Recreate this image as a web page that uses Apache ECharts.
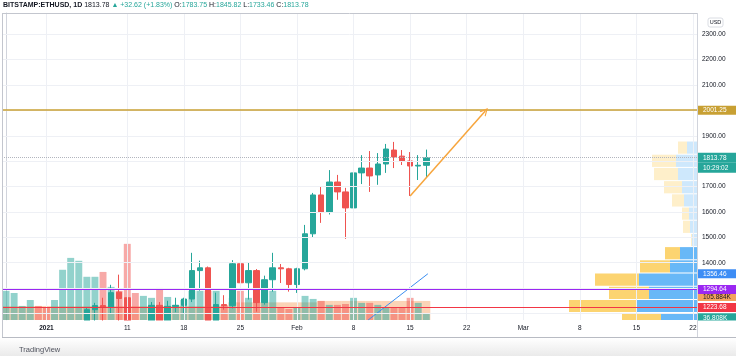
<!DOCTYPE html>
<html><head><meta charset="utf-8">
<script src="https://cdn.jsdelivr.net/npm/echarts@6/dist/echarts.min.js"></script>
<style>html,body{margin:0;padding:0;background:#fff}#c{width:736px;height:356px}</style>
</head><body><div id="c"></div><script>
const dates = [
'2020-12-27','2020-12-28','2020-12-29','2020-12-30','2020-12-31',
'2021-01-01','2021-01-02','2021-01-03','2021-01-04','2021-01-05','2021-01-06','2021-01-07','2021-01-08','2021-01-09','2021-01-10',
'2021-01-11','2021-01-12','2021-01-13','2021-01-14','2021-01-15','2021-01-16','2021-01-17','2021-01-18','2021-01-19','2021-01-20',
'2021-01-21','2021-01-22','2021-01-23','2021-01-24','2021-01-25','2021-01-26','2021-01-27','2021-01-28','2021-01-29','2021-01-30','2021-01-31',
'2021-02-01','2021-02-02','2021-02-03','2021-02-04','2021-02-05','2021-02-06','2021-02-07','2021-02-08','2021-02-09','2021-02-10',
'2021-02-11','2021-02-12','2021-02-13','2021-02-14','2021-02-15','2021-02-16','2021-02-17','2021-02-18','2021-02-19','2021-02-20',
'2021-02-21','2021-02-22','2021-02-23','2021-02-24','2021-02-25','2021-02-26','2021-02-27','2021-02-28',
'2021-03-01','2021-03-02','2021-03-03','2021-03-04','2021-03-05','2021-03-06','2021-03-07','2021-03-08','2021-03-09','2021-03-10',
'2021-03-11','2021-03-12','2021-03-13','2021-03-14','2021-03-15','2021-03-16','2021-03-17','2021-03-18','2021-03-19','2021-03-20',
'2021-03-21','2021-03-22'
];
// [open, close, low, high]  Dec 27 .. Feb 17
const candles = [
[670,685,660,740],[685,731,680,745],[731,732,706,740],[732,752,722,755],[752,737,716,756],
[737,730,714,749],[730,775,716,787],[775,979,768,1010],[979,1041,890,1155],[1041,1100,988,1135],
[1100,1215,1062,1225],[1215,1231,1170,1242],[1231,1224,1155,1262],[1224,1282,1200,1313],[1284,1259,1170,1353],
[1262,1090,918,1265],[1090,1043,1000,1150],[1043,1130,1030,1140],[1130,1232,1100,1245],[1232,1171,1110,1245],
[1171,1228,1160,1250],[1228,1232,1205,1262],[1232,1257,1200,1262],[1257,1369,1245,1439],[1369,1380,1290,1408],
[1380,1121,1100,1385],[1121,1235,1050,1282],[1235,1231,1215,1272],[1231,1396,1220,1410],[1396,1321,1300,1479],
[1321,1369,1255,1400],[1369,1243,1207,1375],[1243,1333,1235,1349],[1333,1380,1286,1439],[1380,1376,1320,1395],
[1376,1314,1286,1380],[1314,1376,1281,1380],[1376,1514,1370,1549],[1514,1667,1500,1675],[1667,1600,1557,1699],
[1600,1718,1590,1765],[1718,1679,1648,1746],[1679,1616,1494,1695],[1616,1754,1569,1765],[1754,1773,1710,1824],
[1773,1742,1679,1840],[1746,1789,1707,1832],[1789,1848,1754,1868],[1844,1817,1773,1876],[1820,1801,1785,1844],
[1801,1781,1663,1836],[1781,1784,1726,1824],[1783.75,1813.78,1733.46,1845.82]
];
// volume, thousands of ETH
const volumes = [
162,150,78,111,78,
72,111,279,345,329,240,240,267,184,162,
423,150,134,123,178,128,84,111,162,162,
162,162,84,123,162,123,100,162,162,72,61,
72,134,117,106,84,84,89,123,95,95,
84,72,67,67,123,95,36.808
];
const volumeMA = [
78,78,78,78,78,78,78,78,78,78,78,78,78,78,78,78,78,78,78,78,78,78,78,78,78,78,78,78,
98,98,98,98,98,98,98,98,98,98,98,
106,106,106,106,106,106,106,106,106,106,106,106,106,105.884
];
const priceTicks = [1400,1500,1600,1700,1900,2100,2200,2300];
const gridLevels = [1200,1300,1400,1500,1600,1700,1800,1900,2000,2100,2200,2300];
const dateTicks = ['2021-01-01','2021-01-11','2021-01-18','2021-01-25','2021-02-01','2021-02-08','2021-02-15','2021-02-22','2021-03-01','2021-03-08','2021-03-15','2021-03-22'];
const dateTickText = ['2021','11','18','25','Feb','8','15','22','Mar','8','15','22'];
const levelResistance = 2001.25;
const lastPrice = 1813.78;
const levelPurple = 1294.64;
const levelRed = 1223.68;
const trendLabel = 1356.46;
// visible-range volume profile rows (row low price), up / down volume
const profileRow = 52;
const profileLow = [1151.5,1203.5,1255.5,1307.5,1359.5,1411.5,1463.5,1515.5,1567.5,1619.5,1671.5,1723.5,1775.5,1827.5];
const profileUp =   [36,60,48,58,27,17,5,7,8,13,15,19,21,10];
const profileDown = [39,68,40,44,30,15,1,7,7,12,18,24,24,9];
const profileInVA = [1,1,1,1,1,1,0,0,0,0,0,0,0,0];
// drawings: [day index, price]
const arrowPts = [[50,1663],[59.3,1998]];
const trendPts = [[44.8,1174],[52.2,1356.46]];

const FONT = '"Liberation Sans", Arial, sans-serif';
const UP = '#26a69a', DN = '#ef5350';
const HIDDEN_LINE = {width:0, color:'rgba(0,0,0,0)'};
const chart = echarts.init(document.getElementById('c'), null, {renderer:'canvas'});

function tag(bg, txt, color){
  return {show:true, position:'end', distance:1, formatter:txt, color:color||'#fff', backgroundColor:bg,
    fontSize:6.5, lineHeight:8, fontFamily:FONT, padding:[1,8,0,5], width:26};
}
const lvl = (v, color, type, width, label) => ({yAxis:v, lineStyle:{color:color, type:type, width:width}, label:label});

function renderProfile(params, api){
  const lo = api.value(0), hi = api.value(1), up = api.value(2), dn = api.value(3), va = api.value(4);
  const pR = api.coord([0, hi]);
  const pB = api.coord([up, lo]);
  const pY = api.coord([up + dn, lo]);
  const top = pR[1] + 0.5, bottom = pB[1] - 0.5;
  const cs = params.coordSys;
  const box = {x:cs.x, y:cs.y, width:cs.width, height:cs.height};
  const b = echarts.graphic.clipRectByRect({x:pB[0], y:top, width:pR[0]-pB[0], height:bottom-top}, box);
  const y = echarts.graphic.clipRectByRect({x:pY[0], y:top, width:pB[0]-pY[0], height:bottom-top}, box);
  const ch = [];
  if (b) ch.push({type:'rect', shape:b, style:{fill: va ? 'rgba(33,150,243,0.68)' : 'rgba(33,150,243,0.22)'}});
  if (y) ch.push({type:'rect', shape:y, style:{fill: va ? 'rgba(251,192,45,0.68)' : 'rgba(251,192,45,0.25)'}});
  return {type:'group', children:ch};
}

const option = {
  animation:false,
  backgroundColor:'#ffffff',
  textStyle:{fontFamily:FONT},
  grid:[{left:2,right:39,top:13,bottom:36},{left:2,right:39,top:239,bottom:36}],
  xAxis:[
    {type:'category', gridIndex:0, data:dates, boundaryGap:true, z:7,
     axisLine:{show:false}, axisTick:{show:false},
     axisLabel:{interval:(i,v)=>dateTicks.includes(v),
       formatter:(v)=>{const k=dateTicks.indexOf(v); return k===0 ? '{b|'+dateTickText[k]+'}' : dateTickText[k];},
       fontSize:6.5, color:'#131722', margin:5, rich:{b:{fontWeight:'bold', fontSize:6.5, color:'#131722'}}},
     splitLine:{show:false}},
    {type:'value', gridIndex:0, min:-0.5, max:dates.length-0.5, show:false},
    {type:'value', gridIndex:0, inverse:true, min:0, max:695, show:false},
    {type:'category', gridIndex:1, data:dates, show:false},
    {type:'category', gridIndex:1, data:dates, show:false}
  ],
  yAxis:[
    {type:'value', gridIndex:0, position:'right', min:1174.3, max:2384, splitLine:{show:false},
     axisLine:{show:true, lineStyle:{color:'#d1d4dc'}}, axisTick:{show:false},
     axisLabel:{customValues:priceTicks, formatter:(v)=>v.toFixed(2), fontSize:6.5, color:'#131722', margin:5}},
    {type:'value', gridIndex:1, min:0, max:450, show:false}
  ],
  series:[
    {type:'line', xAxisIndex:1, yAxisIndex:0, data:[], z:0, silent:true,
     markLine:{silent:true, symbol:['none','none'], label:{show:false}, animation:false,
       lineStyle:{color:'#eef0f5', width:1, type:'solid'},
       data:gridLevels.map(v=>({yAxis:v})).concat(dateTicks.map(d=>({xAxis:dates.indexOf(d)})))}},
    {type:'bar', xAxisIndex:4, yAxisIndex:1, data:volumeMA, barCategoryGap:'0%', z:1, silent:true,
     itemStyle:{color:'rgba(245,150,80,0.42)'},
     markLine:{silent:true, symbol:['none','none'], animation:false,
       data:[{yAxis:volumeMA[volumeMA.length-1], lineStyle:HIDDEN_LINE,
         label:Object.assign(tag('#f3a25e','105.884K','#131722'),{verticalAlign:'bottom'})}]}},
    {type:'bar', xAxisIndex:3, yAxisIndex:1, z:1, silent:true, barCategoryGap:'14%',
     data:volumes.map((v,i)=>({value:v, itemStyle:{color: candles[i][1] >= candles[i][0] ? 'rgba(38,166,154,0.5)' : 'rgba(239,83,80,0.5)'}})),
     markLine:{silent:true, symbol:['none','none'], animation:false,
       data:[{yAxis:volumes[volumes.length-1], lineStyle:HIDDEN_LINE,
         label:Object.assign(tag(UP,'36.808K'),{verticalAlign:'top'})}]}},
    {type:'custom', xAxisIndex:2, yAxisIndex:0, z:2, silent:true, renderItem:renderProfile,
     encode:{x:2, y:0},
     data:profileLow.map((lo,i)=>[lo, lo+profileRow, profileUp[i], profileDown[i], profileInVA[i]])},
    {type:'candlestick', xAxisIndex:0, yAxisIndex:0, z:3, data:candles, barWidth:6, clip:true, silent:true,
     itemStyle:{color:UP, color0:DN, borderColor:UP, borderColor0:DN, borderWidth:1},
     markLine:{silent:true, symbol:['none','none'], animation:false,
       data:[
         lvl(levelResistance,'#c8a033','solid',1.5, tag('#c8a033', levelResistance.toFixed(2))),
         {yAxis:lastPrice, lineStyle:{color:'#b2b5be', type:'dotted', width:1},
          label:{show:true, position:'end', distance:1, formatter:'{e| }\n{a|'+lastPrice.toFixed(2)+'}\n{a|10:29:02}',
            rich:{e:{fontSize:6.5, lineHeight:10, height:10},
                  a:{backgroundColor:UP, color:'#fff', fontSize:6.5, lineHeight:10, height:10, width:26, padding:[0,8,0,5], fontFamily:FONT}}}},
         {yAxis:trendLabel, lineStyle:HIDDEN_LINE, label:tag('#3d8df5', trendLabel.toFixed(2))},
         lvl(levelPurple,'#9b27f2','solid',1.2, tag('#9b27f2', levelPurple.toFixed(2))),
         lvl(levelRed,'#f23645','solid',1.2, tag('#f23645', levelRed.toFixed(2)))
       ]}},
    {type:'line', xAxisIndex:1, yAxisIndex:0, z:4, data:trendPts, symbol:'none', clip:true, silent:true,
     lineStyle:{color:'#3a8ef0', width:1}},
    {type:'line', xAxisIndex:1, yAxisIndex:0, z:4, data:[], silent:true,
     markLine:{silent:true, animation:false, symbol:['none','path://M0,10 L5,0 L10,10 L8.4,10 L5,3.2 L1.6,10 Z'], symbolSize:[8,8],
       label:{show:false}, lineStyle:{color:'#f7a53c', width:1.5, type:'solid'},
       data:[[{coord:arrowPts[0]},{coord:arrowPts[1]}]]}}
  ],
  graphic:[
    {type:'rect', z:6, shape:{x:3, y:320.5, width:733, height:16.5}, style:{fill:'#ffffff'}},
    {type:'text', x:3, y:2, z:10, style:{
      text:'{b|BITSTAMP:ETHUSD, 1D} {d|1813.78} {g|\u25B2 +32.62 (+1.83%)} {d|O:}{g|1783.75} {d|H:}{g|1845.82} {d|L:}{g|1733.46} {d|C:}{g|1813.78}',
      font:'7px '+FONT,
      rich:{b:{fill:'#131722', fontWeight:'bold', fontSize:7, fontFamily:FONT},
            d:{fill:'#131722', fontSize:7, fontFamily:FONT},
            g:{fill:UP, fontSize:7, fontFamily:FONT}}}},
    {type:'line', z:10, shape:{x1:2, y1:13.5, x2:697, y2:13.5}, style:{stroke:'#c3c6ce', lineWidth:1}},
    {type:'line', z:10, shape:{x1:2.5, y1:13, x2:2.5, y2:337}, style:{stroke:'#c3c6ce', lineWidth:1}},
    {type:'line', z:10, shape:{x1:697.5, y1:13, x2:697.5, y2:337}, style:{stroke:'#d1d4dc', lineWidth:1}},
    {type:'line', z:10, shape:{x1:2, y1:337.5, x2:736, y2:337.5}, style:{stroke:'#b8bbc3', lineWidth:1}},
    {type:'rect', z:10, shape:{x:0, y:338, width:736, height:18},
     style:{fill:new echarts.graphic.LinearGradient(0,0,0,1,[{offset:0,color:'#ffffff'},{offset:1,color:'#eaeaea'}])}},
    {type:'rect', z:10, shape:{x:708, y:18, width:15, height:9, r:2}, style:{fill:'#fff', stroke:'#d1d4dc', lineWidth:0.8}},
    {type:'text', z:11, x:715.5, y:22.5, style:{text:'USD', font:'5.5px '+FONT, fill:'#131722', align:'center', verticalAlign:'middle'}},
    {type:'group', z:11, children:[
      {type:'circle', shape:{cx:8, cy:350, r:2.6}, style:{fill:'#3b7fd4'}},
      {type:'circle', shape:{cx:11.5, cy:347.8, r:3.2}, style:{fill:'#3b7fd4'}},
      {type:'circle', shape:{cx:15, cy:350, r:2.4}, style:{fill:'#3b7fd4'}},
      {type:'rect', shape:{x:6, y:350, width:10, height:2.6}, style:{fill:'#3b7fd4'}}
    ]},
    {type:'text', z:11, x:19, y:349.5, style:{text:'TradingView', font:'7.5px '+FONT, fill:'#50535e', verticalAlign:'middle'}}
  ]
};
chart.setOption(option);
</script></body></html>
